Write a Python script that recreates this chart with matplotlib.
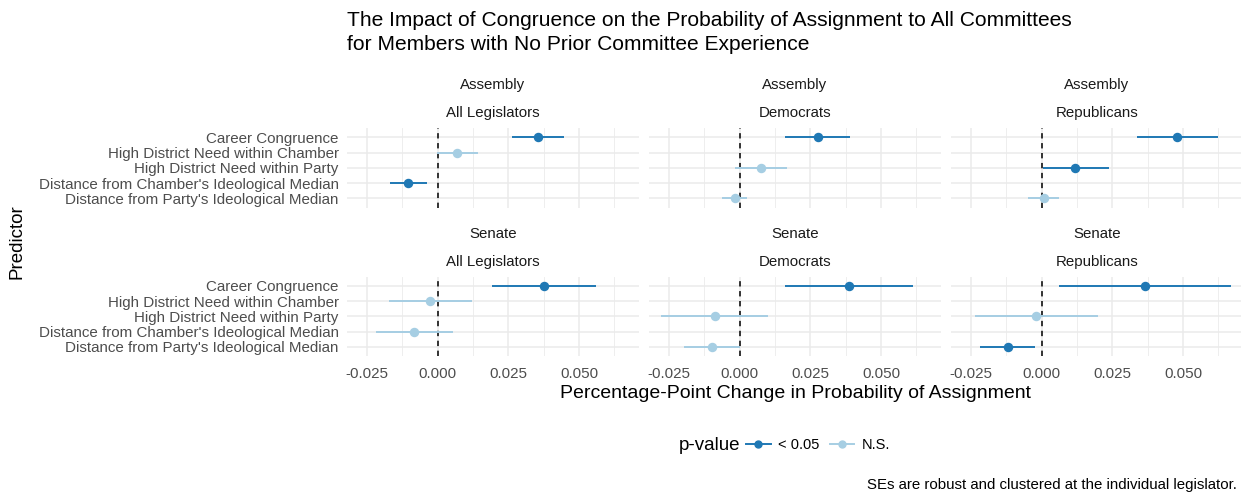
import numpy as np
import matplotlib.pyplot as plt
from matplotlib.lines import Line2D

plt.rcParams['font.family'] = ['Liberation Sans', 'DejaVu Sans']

# Predictores (de arriba hacia abajo)
predictors = ["Career Congruence",
              "High District Need within Chamber",
              "High District Need within Party",
              "Distance from Chamber's Ideological Median",
              "Distance from Party's Ideological Median"]

chambers = ["Assembly", "Senate"]
groups = ["All Legislators", "Democrats", "Republicans"]

nan = np.nan

# Assembly
est_asm_all = [0.0356, 0.0069, nan, -0.0103, nan]
lo_asm_all  = [0.0264, -0.0002, nan, -0.0168, nan]
hi_asm_all  = [0.0448, 0.0144, nan, -0.0037, nan]
sig_asm_all = [1, 0, 0, 1, 0]

est_asm_dem = [0.0276, nan, 0.0075, nan, -0.0017]
lo_asm_dem  = [0.0159, nan, -0.0017, nan, -0.0061]
hi_asm_dem  = [0.0391, nan, 0.0168, nan, 0.0028]
sig_asm_dem = [1, 0, 0, 0, 0]

est_asm_rep = [0.0478, nan, 0.0120, nan, 0.0008]
lo_asm_rep  = [0.0336, nan, 0.0006, nan, -0.0047]
hi_asm_rep  = [0.0622, nan, 0.0239, nan, 0.0062]
sig_asm_rep = [1, 0, 1, 0, 0]

# Senate
est_sen_all = [0.0375, -0.0026, nan, -0.0082, nan]
lo_sen_all  = [0.0193, -0.0172, nan, -0.0216, nan]
hi_sen_all  = [0.0561, 0.0123, nan, 0.0054, nan]
sig_sen_all = [1, 0, 0, 0, 0]

est_sen_dem = [0.0387, nan, -0.0088, nan, -0.0098]
lo_sen_dem  = [0.0160, nan, -0.0277, nan, -0.0198]
hi_sen_dem  = [0.0613, nan, 0.0100, nan, 0.0000]
sig_sen_dem = [1, 0, 0, 0, 0]

est_sen_rep = [0.0366, nan, -0.0018, nan, -0.0120]
lo_sen_rep  = [0.0061, nan, -0.0236, nan, -0.0218]
hi_sen_rep  = [0.0669, nan, 0.0200, nan, -0.0023]
sig_sen_rep = [1, 0, 0, 0, 1]

panels = [[(est_asm_all, lo_asm_all, hi_asm_all, sig_asm_all),
           (est_asm_dem, lo_asm_dem, hi_asm_dem, sig_asm_dem),
           (est_asm_rep, lo_asm_rep, hi_asm_rep, sig_asm_rep)],
          [(est_sen_all, lo_sen_all, hi_sen_all, sig_sen_all),
           (est_sen_dem, lo_sen_dem, hi_sen_dem, sig_sen_dem),
           (est_sen_rep, lo_sen_rep, hi_sen_rep, sig_sen_rep)]]

xticks = [-0.025, 0.0, 0.025, 0.050]
xtick_labels = ["-0.025", "0.000", "0.025", "0.050"]
xminor = [-0.0125, 0.0125, 0.0375, 0.0625]

c_sig = "#1F78B4"
c_ns = "#A6CEE3"
grid_c = "#EBEBEB"

W, H = 1241, 493
fig = plt.figure(figsize=(W / 100, H / 100), dpi=100)

def px(x, y, w, h):
    # caja en pixeles (desde arriba) -> fraccion de figura
    return [x / W, 1 - (y + h) / H, w / W, h / H]

lefts = [347, 649, 951]
tops = [128.3, 276.7]
pw, ph = 292, 79.3

for r in range(2):
    for c in range(3):
        ax = fig.add_axes(px(lefts[c], tops[r], pw, ph))
        est, lo, hi, sig = panels[r][c]
        yy = np.arange(len(predictors))
        for x in xticks:
            ax.axvline(x, color=grid_c, lw=1.1, zorder=0)
        for x in xminor:
            ax.axvline(x, color=grid_c, lw=0.6, zorder=0)
        for y in yy:
            ax.axhline(y, color=grid_c, lw=1.1, zorder=0)
        ax.axvline(0, color="black", lw=1.1, ls=(0, (3.5, 3)), zorder=1)
        for i in range(len(predictors)):
            if np.isnan(est[i]):
                continue
            col = c_sig if sig[i] else c_ns
            ax.hlines(yy[i], lo[i], hi[i], color=col, lw=1.4, zorder=2)
            ax.plot(est[i], yy[i], 'o', color=col, ms=5.8, zorder=3)
        ax.set_xlim(-0.0320, 0.0712)
        ax.set_ylim(4.6, -0.6)
        for s in ax.spines.values():
            s.set_visible(False)
        ax.set_yticks(yy)
        if c == 0:
            ax.set_yticklabels(predictors, fontsize=10.9, color="#4D4D4D")
        else:
            ax.set_yticklabels([])
        ax.set_xticks(xticks)
        if r == 1:
            ax.set_xticklabels(xtick_labels, fontsize=10.9, color="#4D4D4D")
        else:
            ax.set_xticklabels([])
        ax.tick_params(axis='y', length=0, pad=6)
        ax.tick_params(axis='x', length=0, pad=8)
        cx = (lefts[c] + pw / 2) / W
        fig.text(cx, 1 - (tops[r] - 43) / H, chambers[r], ha='center',
                 va='center', fontsize=10.8, color="#1A1A1A")
        fig.text(cx, 1 - (tops[r] - 15) / H, groups[c], ha='center',
                 va='center', fontsize=10.8, color="#1A1A1A")

fig.text(347 / W, 1 - 20 / H,
         "The Impact of Congruence on the Probability of Assignment to All Committees",
         ha='left', va='center', fontsize=15.1)
fig.text(347 / W, 1 - 44 / H,
         "for Members with No Prior Committee Experience",
         ha='left', va='center', fontsize=15.1)

fig.text(795 / W, 1 - 393 / H,
         "Percentage-Point Change in Probability of Assignment",
         ha='center', va='center', fontsize=14)
fig.text(17 / W, 1 - 242 / H, "Predictor", rotation=90,
         ha='center', va='center', fontsize=13.5)

# Leyenda
fig.text(740 / W, 1 - 445 / H, "p-value", ha='right', va='center', fontsize=13.5)
handles = [Line2D([], [], color=c_sig, lw=1.4, marker='o', ms=5),
           Line2D([], [], color=c_ns, lw=1.4, marker='o', ms=5)]
fig.legend(handles, ["< 0.05", "N.S."], loc='center left',
           bbox_to_anchor=(746 / W, 1 - 445 / H), ncol=2, frameon=False,
           fontsize=10.5, handlelength=1.7, handletextpad=0.5,
           columnspacing=0.7, borderaxespad=0, borderpad=0)

fig.text(1237 / W, 1 - 485 / H,
         "SEs are robust and clustered at the individual legislator.",
         ha='right', va='center', fontsize=10.8)

fig.savefig("out.png", dpi=100)
